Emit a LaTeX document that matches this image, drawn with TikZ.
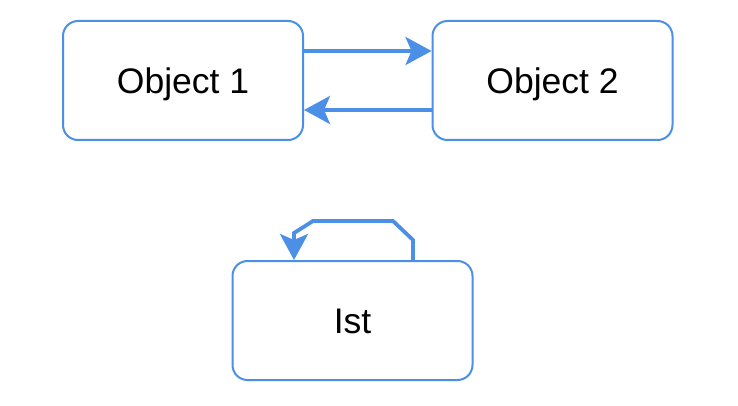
\documentclass[tikz,border=0pt]{standalone}
\usepackage{fontspec}
\setmainfont{Liberation Sans}
\usetikzlibrary{arrows.meta}
\definecolor{dblue}{HTML}{4C8FE6}
\begin{document}
\begin{tikzpicture}[x=1pt,y=-1pt,
  obj/.style={draw=dblue,line width=2pt,rounded corners=15pt,minimum width=240pt,minimum height=119pt,inner sep=0pt,font=\fontsize{35.5}{40}\selectfont,text height=25.4pt,text depth=0pt,fill=white},
  conn/.style={draw=dblue,line width=3.8pt,-{Stealth[length=26pt,width=28pt,inset=6pt]}}]
\useasboundingbox (0,0) rectangle (738,406);
\node[obj] (o1) at (183,80.5) {Object 1};
\node[obj] (o2) at (552.5,80.5) {Object 2};
\node[obj] (ist) at (352.5,320.5) {Ist};
\draw[conn] ([yshift=29.5pt]o1.east) -- ([yshift=29.5pt]o2.west);
\draw[conn] ([yshift=-29.5pt]o2.west) -- ([yshift=-29.5pt]o1.east);
\coordinate (la) at (413,240);
\coordinate (lb) at (393,221);
\coordinate (lc) at (313,221);
\coordinate (ld) at (294,233);
\draw[conn] (ist.north -| la) -- (la) -- (lb) -- (lc) -- (ld) -- (ist.north -| ld);
\end{tikzpicture}
\end{document}
